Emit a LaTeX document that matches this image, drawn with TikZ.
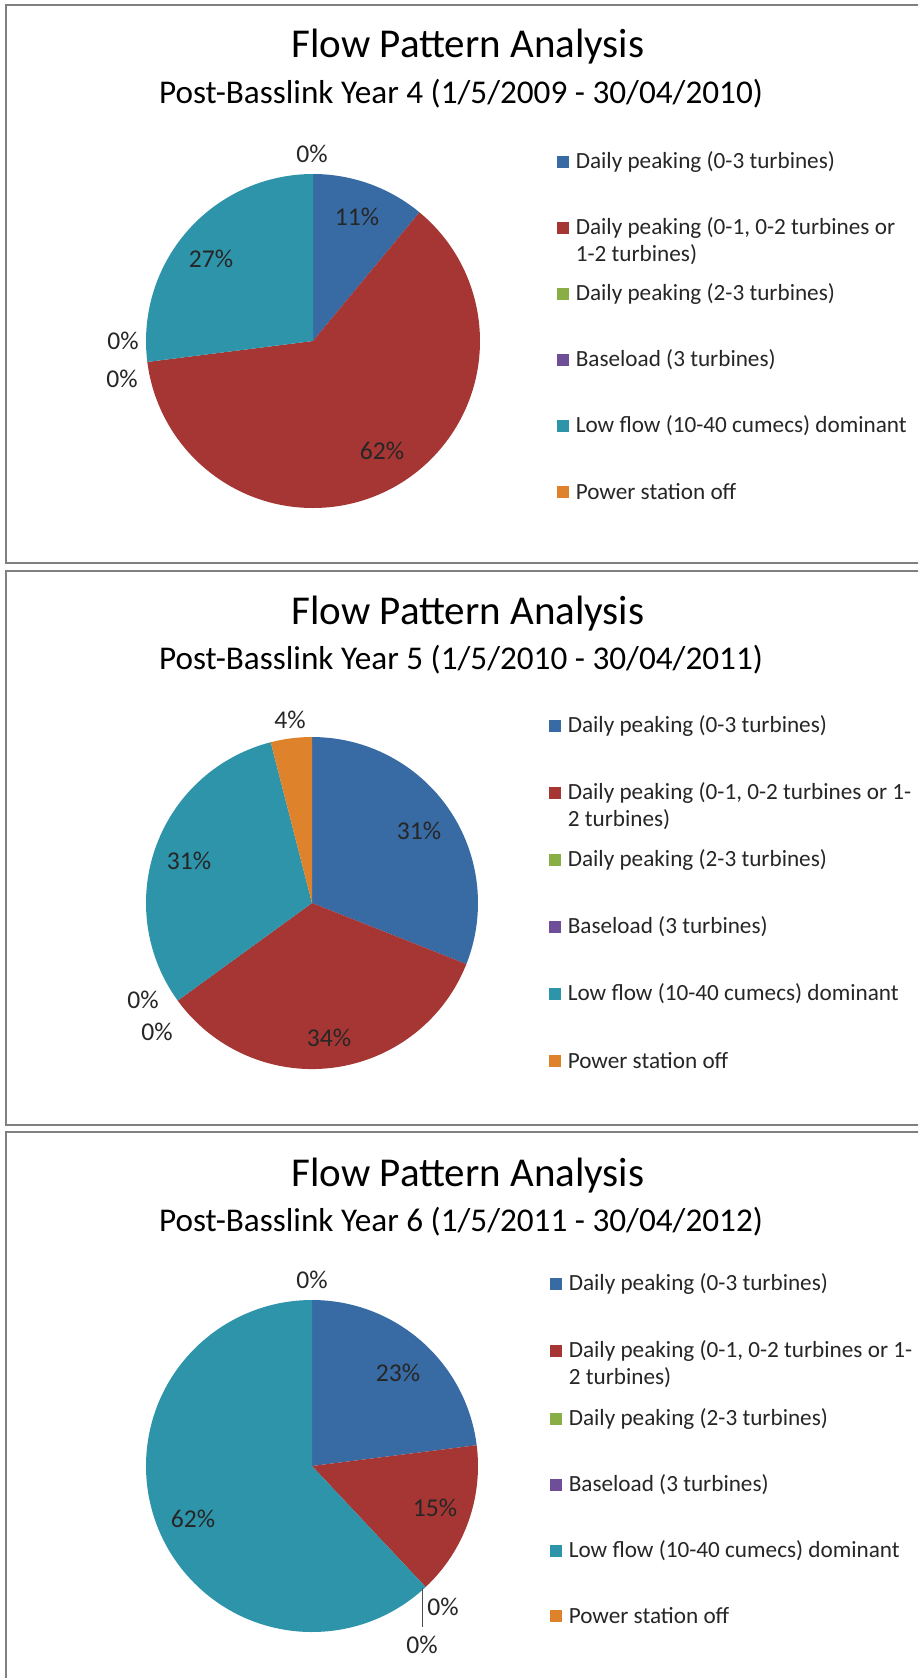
\documentclass[tikz,border=0pt]{standalone}
\usepackage{fontspec}
\setmainfont{Carlito}
\usepackage{tikz}
\usetikzlibrary{positioning}
\definecolor{peakall}{RGB}{56,106,164}
\definecolor{peakpart}{RGB}{166,54,52}
\definecolor{peakhigh}{RGB}{138,174,70}
\definecolor{baseload}{RGB}{110,78,152}
\definecolor{lowflow}{RGB}{46,148,170}
\definecolor{stationoff}{RGB}{222,130,44}
\definecolor{frame}{RGB}{128,128,128}
\tikzstyle{panel}=[draw=frame, line width=1pt]
\tikzstyle{charttitle}=[font=\fontsize{20.5}{24}\selectfont, inner sep=0pt]
\tikzstyle{chartsub}=[font=\fontsize{16.6}{19}\selectfont, inner sep=0pt]
\tikzstyle{pct}=[font=\fontsize{12.8}{15}\selectfont, text=black!85, inner sep=0pt]
\tikzstyle{keybox}=[rectangle, minimum size=6pt, inner sep=0pt]
\tikzstyle{keytext}=[anchor=west, align=left, inner sep=0pt,
  font=\fontsize{11.6}{13.4}\selectfont, text=black!85]
\tikzstyle{leader}=[draw=black!70, line width=0.5pt]

\begin{document}
\begin{tikzpicture}[x=0.5pt, y=0.5pt]

\useasboundingbox (0,0) rectangle (918,-1678);
\fill[white] (0,0) rectangle (918,-1678);
\begin{scope}
\clip (0,0) rectangle (918,-1678);
\draw[panel] (6,-5) rectangle (940,-563);
\draw[panel] (6,-571) rectangle (940,-1125);
\draw[panel] (6,-1132) rectangle (940,-1700);
\end{scope}

% year 4
\node[charttitle] (title4) at (468,-47) {Flow Pattern Analysis};
\node[chartsub] (sub4) at (461,-94) {Post-Basslink Year 4 (1/5/2009 - 30/04/2010)};
\coordinate (pie4) at (313,-341);
\fill[peakall] (pie4) -- ++(90:167) arc[start angle=90, end angle=50.4, radius=167] -- cycle;
\fill[peakpart] (pie4) -- ++(50.4:167) arc[start angle=50.4, end angle=-172.8, radius=167] -- cycle;
\fill[lowflow] (pie4) -- ++(187.2:167) arc[start angle=187.2, end angle=90, radius=167] -- cycle;
\node[pct] (p4off) at (312,-154) {0\%};
\node[pct] (p4all) at (357,-217) {11\%};
\node[pct] (p4low) at (211,-259) {27\%};
\node[pct] (p4base) at (123,-341) {0\%};
\node[pct] (p4high) at (122,-379) {0\%};
\node[pct] (p4part) at (382,-451) {62\%};

\node[keybox, fill=peakall] (k4a) at (563,-162) {};
\node[keytext, right=3pt of k4a] (t4a) {Daily peaking (0-3 turbines)};
\node[keybox, fill=peakpart] (k4b) at (563,-228) {};
\node[keytext, right=3pt of k4b, yshift=-6.7pt] (t4b) {Daily peaking (0-1, 0-2 turbines or\\1-2 turbines)};
\node[keybox, fill=peakhigh] (k4c) at (563,-294) {};
\node[keytext, right=3pt of k4c] (t4c) {Daily peaking (2-3 turbines)};
\node[keybox, fill=baseload] (k4d) at (563,-360) {};
\node[keytext, right=3pt of k4d] (t4d) {Baseload (3 turbines)};
\node[keybox, fill=lowflow] (k4e) at (563,-426) {};
\node[keytext, right=3pt of k4e] (t4e) {Low flow (10-40 cumecs) dominant};
\node[keybox, fill=stationoff] (k4f) at (563,-492) {};
\node[keytext, right=3pt of k4f] (t4f) {Power station off};

% year 5
\node[charttitle] (title5) at (468,-614) {Flow Pattern Analysis};
\node[chartsub] (sub5) at (461,-660) {Post-Basslink Year 5 (1/5/2010 - 30/04/2011)};
\coordinate (pie5) at (312,-903);
\fill[peakall] (pie5) -- ++(90:166) arc[start angle=90, end angle=-21.6, radius=166] -- cycle;
\fill[peakpart] (pie5) -- ++(-21.6:166) arc[start angle=-21.6, end angle=-144, radius=166] -- cycle;
\fill[lowflow] (pie5) -- ++(216:166) arc[start angle=216, end angle=104.4, radius=166] -- cycle;
\fill[stationoff] (pie5) -- ++(104.4:166) arc[start angle=104.4, end angle=90, radius=166] -- cycle;
\node[pct] (p5off) at (290,-720) {4\%};
\node[pct] (p5all) at (419,-831) {31\%};
\node[pct] (p5low) at (189,-861) {31\%};
\node[pct] (p5base) at (143,-1000) {0\%};
\node[pct] (p5high) at (157,-1032) {0\%};
\node[pct] (p5part) at (329,-1038) {34\%};

\node[keybox, fill=peakall] (k5a) at (555,-726) {};
\node[keytext, right=3pt of k5a] (t5a) {Daily peaking (0-3 turbines)};
\node[keybox, fill=peakpart] (k5b) at (555,-793) {};
\node[keytext, right=3pt of k5b, yshift=-6.7pt] (t5b) {Daily peaking (0-1, 0-2 turbines or 1-\\2 turbines)};
\node[keybox, fill=peakhigh] (k5c) at (555,-860) {};
\node[keytext, right=3pt of k5c] (t5c) {Daily peaking (2-3 turbines)};
\node[keybox, fill=baseload] (k5d) at (555,-927) {};
\node[keytext, right=3pt of k5d] (t5d) {Baseload (3 turbines)};
\node[keybox, fill=lowflow] (k5e) at (555,-994) {};
\node[keytext, right=3pt of k5e] (t5e) {Low flow (10-40 cumecs) dominant};
\node[keybox, fill=stationoff] (k5f) at (555,-1061) {};
\node[keytext, right=3pt of k5f] (t5f) {Power station off};

% year 6
\node[charttitle] (title6) at (468,-1176) {Flow Pattern Analysis};
\node[chartsub] (sub6) at (461,-1222) {Post-Basslink Year 6 (1/5/2011 - 30/04/2012)};
\coordinate (pie6) at (312,-1466);
\fill[peakall] (pie6) -- ++(90:166) arc[start angle=90, end angle=7.2, radius=166] -- cycle;
\fill[peakpart] (pie6) -- ++(7.2:166) arc[start angle=7.2, end angle=-46.8, radius=166] -- cycle;
\fill[lowflow] (pie6) -- ++(313.2:166) arc[start angle=313.2, end angle=90, radius=166] -- cycle;
\coordinate (lead6a) at (422,-1588);
\coordinate (lead6b) at (422,-1627);
\draw[leader] (lead6a) -- (lead6b);
\node[pct] (p6off) at (312,-1280) {0\%};
\node[pct] (p6all) at (398,-1373) {23\%};
\node[pct] (p6part) at (435,-1508) {15\%};
\node[pct] (p6low) at (193,-1519) {62\%};
\node[pct] (p6high) at (443,-1607) {0\%};
\node[pct] (p6base) at (422,-1645) {0\%};

\node[keybox, fill=peakall] (k6a) at (556,-1284) {};
\node[keytext, right=3pt of k6a] (t6a) {Daily peaking (0-3 turbines)};
\node[keybox, fill=peakpart] (k6b) at (556,-1351) {};
\node[keytext, right=3pt of k6b, yshift=-6.7pt] (t6b) {Daily peaking (0-1, 0-2 turbines or 1-\\2 turbines)};
\node[keybox, fill=peakhigh] (k6c) at (556,-1419) {};
\node[keytext, right=3pt of k6c] (t6c) {Daily peaking (2-3 turbines)};
\node[keybox, fill=baseload] (k6d) at (556,-1485) {};
\node[keytext, right=3pt of k6d] (t6d) {Baseload (3 turbines)};
\node[keybox, fill=lowflow] (k6e) at (556,-1551) {};
\node[keytext, right=3pt of k6e] (t6e) {Low flow (10-40 cumecs) dominant};
\node[keybox, fill=stationoff] (k6f) at (556,-1616) {};
\node[keytext, right=3pt of k6f] (t6f) {Power station off};

\end{tikzpicture}
\end{document}
